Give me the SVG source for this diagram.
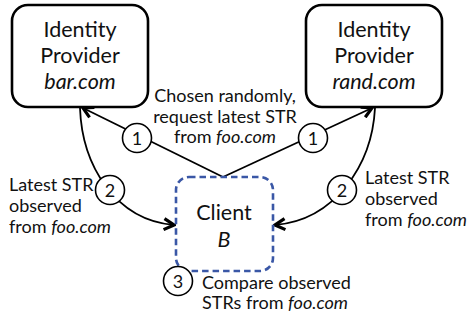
<svg xmlns="http://www.w3.org/2000/svg" width="472" height="320" viewBox="0 0 472 320">
<style>
text{font-family:Lato,"Open Sans","Liberation Sans",sans-serif;fill:#111}
.t{font-size:21.5px;text-anchor:middle}
.l{font-size:18px}
.n{font-size:18px;text-anchor:middle}
.box{fill:#fff;stroke:#000;stroke-width:2.6}
.cl{fill:#fff;stroke:#3a57a6;stroke-width:2.6;stroke-dasharray:6.5 4}
.c{fill:none;stroke:#000;stroke-width:1.8}
.bub{fill:#fff;stroke:#000;stroke-width:1.6}
</style>
<defs>
<marker id="ah" viewBox="0 0 14 14" refX="12" refY="7" markerWidth="14" markerHeight="14" markerUnits="userSpaceOnUse" orient="auto">
<path d="M2 1.5 L12 7 L2 12.5" fill="none" stroke="#000" stroke-width="3.2" stroke-linejoin="miter"/>
</marker>
</defs>
<g id="connectors">
<path class="c" d="M223 177 L83 108" marker-end="url(#ah)"/>
<path class="c" d="M223 177 L372 108" marker-end="url(#ah)"/>
<path class="c" d="M80 108 C82 165 115 220 174 225" marker-end="url(#ah)"/>
<path class="c" d="M375 108 C372 165 335 220 275 225" marker-end="url(#ah)"/>
</g>
<g id="idp-bar">
<rect class="box" x="12" y="5" width="136" height="102" rx="16"/>
<text class="t" x="80" y="37">Identity</text>
<text class="t" x="80" y="63">Provider</text>
<text class="t" x="80" y="89" font-style="italic">bar.com</text>
</g>
<g id="idp-rand">
<rect class="box" x="306" y="5" width="136" height="102" rx="16"/>
<text class="t" x="374" y="37">Identity</text>
<text class="t" x="374" y="63">Provider</text>
<text class="t" x="374" y="89" font-style="italic">rand.com</text>
</g>
<g id="client">
<rect class="cl" x="176" y="177" width="97" height="94" rx="13"/>
<text class="t" x="224" y="220">Client</text>
<text class="t" x="224" y="247" font-style="italic">B</text>
</g>
<g id="labels">
<circle class="bub" cx="137" cy="138" r="14.5"/>
<text class="n" x="137" y="144.5">1</text>
<circle class="bub" cx="313" cy="138" r="14.5"/>
<text class="n" x="313" y="144.5">1</text>
<circle class="bub" cx="110" cy="190" r="14.5"/>
<text class="n" x="110" y="196.5">2</text>
<circle class="bub" cx="342" cy="190" r="14.5"/>
<text class="n" x="342" y="196.5">2</text>
<circle class="bub" cx="178" cy="281" r="14.5"/>
<text class="n" x="178" y="287.5">3</text>
<text class="l" x="225" y="102" text-anchor="middle">Chosen randomly,</text>
<text class="l" x="225" y="123" text-anchor="middle">request latest STR</text>
<text class="l" x="225" y="143" text-anchor="middle">from <tspan font-style="italic">foo.com</tspan></text>
<text class="l" x="9" y="191">Latest STR</text>
<text class="l" x="9" y="212">observed</text>
<text class="l" x="9" y="233">from <tspan font-style="italic">foo.com</tspan></text>
<text class="l" x="365" y="184">Latest STR</text>
<text class="l" x="365" y="205">observed</text>
<text class="l" x="365" y="226">from <tspan font-style="italic">foo.com</tspan></text>
<text class="l" x="202" y="289">Compare observed</text>
<text class="l" x="202" y="309">STRs from <tspan font-style="italic">foo.com</tspan></text>
</g>
</svg>
